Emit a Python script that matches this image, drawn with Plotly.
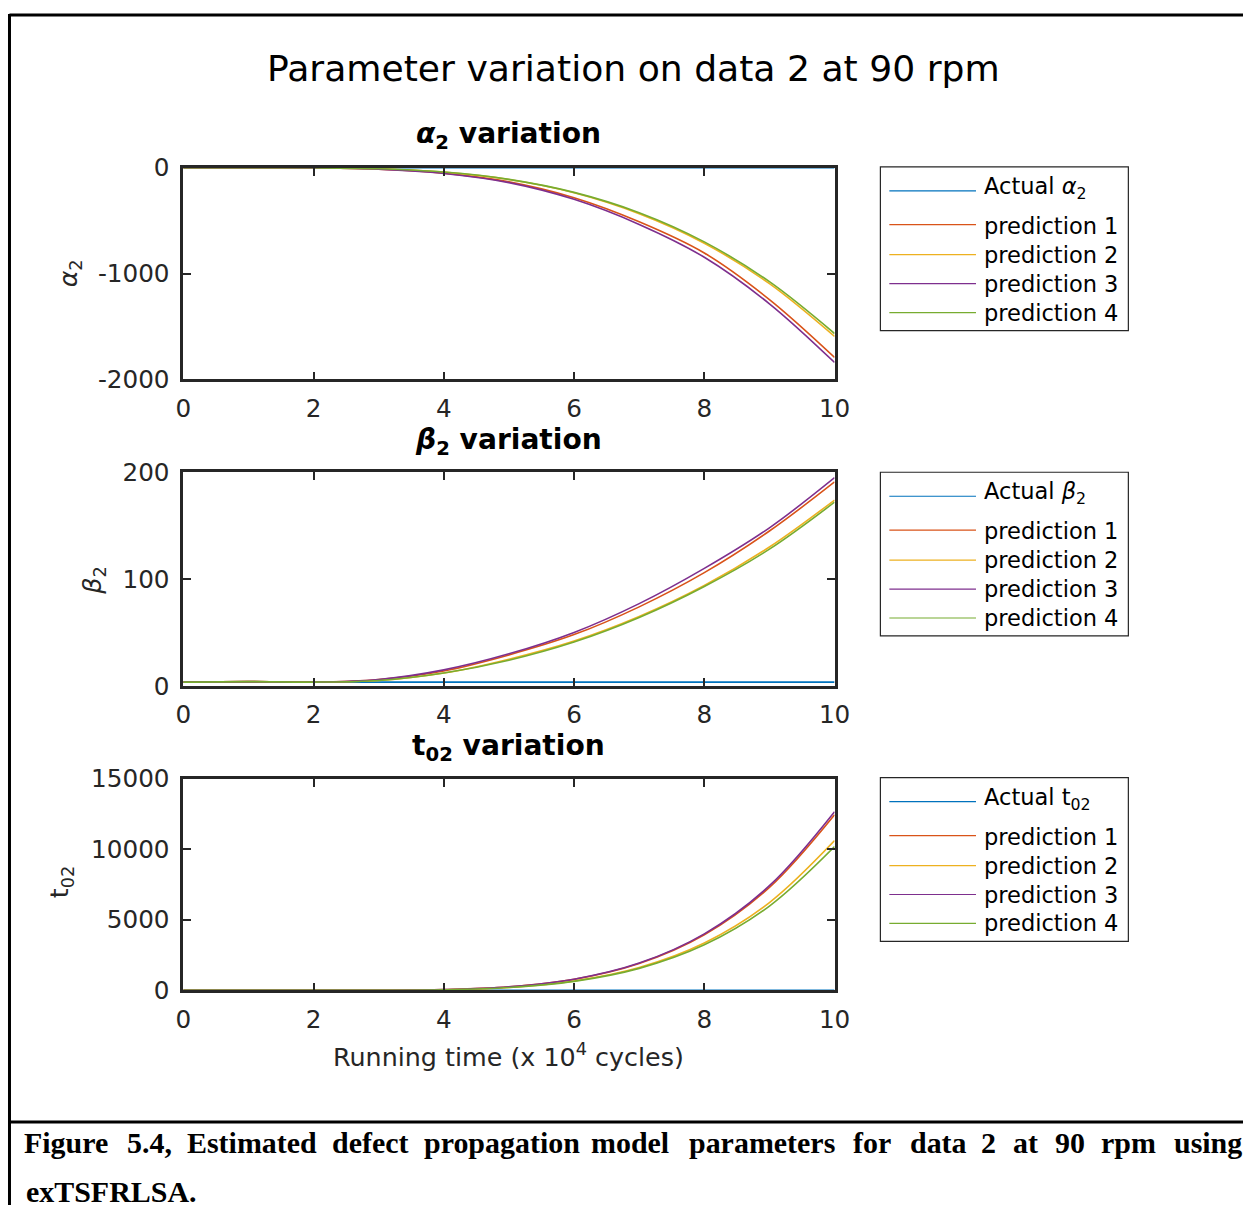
import plotly.graph_objects as go

# ---- data -----------------------------------------------------------------
run_time = [0, 1, 2, 3, 4, 5, 6, 7, 8, 9, 10]  # x 10^4 cycles

alpha_actual = [0, 0, 0, 0, 0, 0, 0, 0, 0, 0, 0]
alpha_pred1 = [0, 0, -1, -12, -50, -133, -283, -510, -805, -1245, -1792]
alpha_pred2 = [0, 0, 0, -9, -41, -111, -236, -434, -713, -1095, -1594]
alpha_pred3 = [0, 0, -1, -13, -53, -140, -298, -535, -845, -1285, -1840]
alpha_pred4 = [0, 0, 0, -9, -40, -109, -232, -424, -700, -1076, -1566]

beta_actual = [3.5, 3.5, 3.5, 3.5, 3.5, 3.5, 3.5, 3.5, 3.5, 3.5, 3.5]
beta_pred1 = [3.5, 4, 3.5, 6, 14, 29, 48, 74, 106, 145, 191]
beta_pred2 = [3.5, 4, 3.5, 5, 12, 25, 42, 65, 94, 130, 174]
beta_pred3 = [3.5, 4, 3.5, 6, 15, 30, 50, 77, 110, 148, 195]
beta_pred4 = [3.5, 4, 3.5, 5, 12, 24, 41, 64, 93, 128, 172]

t02_actual = [0, 0, 0, 0, 0, 0, 0, 0, 0, 0, 0]
t02_pred1 = [0, 0, 0, 3, 49, 246, 778, 1900, 3940, 7300, 12450]
t02_pred2 = [0, 0, 0, 3, 41, 210, 663, 1619, 3357, 6220, 10610]
t02_pred3 = [0, 0, 0, 3, 49, 250, 791, 1931, 4005, 7420, 12665]
t02_pred4 = [0, 0, 0, 2, 40, 202, 637, 1556, 3226, 5976, 10190]

series_names = ["prediction 1", "prediction 2", "prediction 3", "prediction 4"]
actual_labels = ["Actual <i>α</i><sub>2</sub>", "Actual <i>β</i><sub>2</sub>",
                 "Actual t<sub>02</sub>"]
panel_titles = ["<b><i>α</i><sub>2</sub> variation</b>",
                "<b><i>β</i><sub>2</sub> variation</b>",
                "<b>t<sub>02</sub> variation</b>"]
y_titles = ["<i>α</i><sub>2</sub>", "<i>β</i><sub>2</sub>", "t<sub>02</sub>"]

x_ticks = [0, 2, 4, 6, 8, 10]
alpha_ticks = [-2000, -1000, 0]
alpha_ticktext = ["-2000", "-1000", "0"]
beta_ticks = [0, 100, 200]
t02_ticks = [0, 5000, 10000, 15000]

colors = ["#0072BD", "#D95319", "#EDB120", "#7E2F8E", "#77AC30"]

# ---- page geometry ------------------------------------------------------------
# Positions below are given in screen pixels; the figure is shown slightly
# shrunk and offset inside the page, so convert screen pixels to paper units.
W, H = 1259, 1220
SX, SY = 0.985, 0.978   # display scale of the figure
BX, BY = 5.0, 12.9      # display offset of the figure (px)


def fx(p):
    return ((p - BX) / SX) / W


def fy(p):
    return 1 - ((p - BY) / SY) / H


def fs(size):
    return size / SX


AX_L, AX_R = 181, 835
panels = [(167, 379), (472, 686), (779, 991)]  # top, bottom
legend_tops = [166, 472, 778]

FONT = "DejaVu Sans"
DARK = "#262626"

fig = go.Figure()

groups = [
    (alpha_actual, [alpha_pred1, alpha_pred2, alpha_pred3, alpha_pred4]),
    (beta_actual, [beta_pred1, beta_pred2, beta_pred3, beta_pred4]),
    (t02_actual, [t02_pred1, t02_pred2, t02_pred3, t02_pred4]),
]

for i, (actual, preds) in enumerate(groups):
    xa = "x" if i == 0 else f"x{i + 1}"
    ya = "y" if i == 0 else f"y{i + 1}"
    fig.add_trace(go.Scatter(x=run_time, y=actual, mode="lines",
                             line=dict(color=colors[0], width=1.6, shape="spline"),
                             xaxis=xa, yaxis=ya, showlegend=False))
    for k, p in enumerate(preds):
        fig.add_trace(go.Scatter(x=run_time, y=p, mode="lines",
                                 line=dict(color=colors[k + 1], width=1.6, shape="spline"),
                                 xaxis=xa, yaxis=ya, showlegend=False))

axis_common = dict(showline=True, linecolor=DARK, linewidth=2.6, mirror="ticks",
                   ticks="inside", ticklen=8, tickwidth=2, tickcolor=DARK,
                   showgrid=False, zeroline=False,
                   tickfont=dict(family=FONT, size=fs(24.3), color=DARK))

y_ranges = [[-2000, 0], [0, 200], [0, 15000]]
y_tickvals = [alpha_ticks, beta_ticks, t02_ticks]
y_ticktexts = [alpha_ticktext, [str(v) for v in beta_ticks], [str(v) for v in t02_ticks]]

layout_axes = {}
for i, (top, bot) in enumerate(panels):
    xk = "xaxis" if i == 0 else f"xaxis{i + 1}"
    yk = "yaxis" if i == 0 else f"yaxis{i + 1}"
    ya = "y" if i == 0 else f"y{i + 1}"
    xa = "x" if i == 0 else f"x{i + 1}"
    layout_axes[xk] = dict(domain=[fx(AX_L), fx(AX_R)], anchor=ya, range=[0, 10],
                           tickvals=x_ticks, ticklabelstandoff=5, **axis_common)
    layout_axes[yk] = dict(domain=[fy(bot), fy(top)], anchor=xa, range=y_ranges[i],
                           tickvals=y_tickvals[i], ticktext=y_ticktexts[i],
                           ticklabelstandoff=6, **axis_common)

shapes = []
annotations = []

# outer frame and caption divider
shapes.append(dict(type="line", xref="paper", yref="paper", x0=fx(6.5), x1=1,
                   y0=1 - 1.0 / H, y1=1 - 1.0 / H, line=dict(color="black", width=3)))
shapes.append(dict(type="line", xref="paper", yref="paper", x0=fx(6.5), x1=fx(6.5),
                   y0=1, y1=0, line=dict(color="black", width=3)))
shapes.append(dict(type="line", xref="paper", yref="paper", x0=fx(6.5), x1=1,
                   y0=fy(1123), y1=fy(1123), line=dict(color="black", width=3)))

# legends drawn as boxes with line samples
row_offsets = [24, 58, 88, 117, 146]
text_offsets = [21, 59, 88, 117, 146]
for i, top in enumerate(legend_tops):
    shapes.append(dict(type="rect", xref="paper", yref="paper",
                       x0=fx(881), x1=fx(1130), y0=fy(top), y1=fy(top + 164),
                       line=dict(color=DARK, width=1.2), fillcolor="white"))
    labels = [actual_labels[i]] + series_names
    for k in range(5):
        yl = top + row_offsets[k]
        shapes.append(dict(type="line", xref="paper", yref="paper",
                           x0=fx(890), x1=fx(977), y0=fy(yl), y1=fy(yl),
                           line=dict(color=colors[k], width=1.2)))
        annotations.append(dict(xref="paper", yref="paper", x=fx(983),
                                y=fy(top + text_offsets[k]), xanchor="left",
                                yanchor="middle", showarrow=False, text=labels[k],
                                font=dict(family=FONT, size=fs(22.2), color="black")))

# main title
annotations.append(dict(xref="paper", yref="paper", x=fx(633), y=fy(67),
                        xanchor="center", yanchor="middle", showarrow=False,
                        text="Parameter variation on data 2 at 90 rpm",
                        font=dict(family=FONT, size=fs(35.6), color="black")))

# panel titles and y-axis titles
title_y = [135, 441, 748]
ytitle_pos = [(67, 273), (90, 580), (58, 882)]
for i in range(3):
    annotations.append(dict(xref="paper", yref="paper", x=fx(508), y=fy(title_y[i]),
                            xanchor="center", yanchor="middle", showarrow=False,
                            text=panel_titles[i],
                            font=dict(family=FONT, size=fs(27.7), color="black")))
    annotations.append(dict(xref="paper", yref="paper", x=fx(ytitle_pos[i][0]),
                            y=fy(ytitle_pos[i][1]), xanchor="center", yanchor="middle",
                            showarrow=False, textangle=-90, text=y_titles[i],
                            font=dict(family=FONT, size=fs(25), color=DARK)))

# x-axis title
annotations.append(dict(xref="paper", yref="paper", x=fx(508), y=fy(1056),
                        xanchor="center", yanchor="middle", showarrow=False,
                        text="Running time (x 10<sup>4</sup> cycles)",
                        font=dict(family=FONT, size=fs(25), color=DARK)))

# figure caption, laid out justified word by word
caption_line1 = [("Figure", 63), ("5.4,", 147), ("Estimated", 250), ("defect", 369),
                 ("propagation", 501), ("model", 630), ("parameters", 762), ("for", 873),
                 ("data", 939), ("2", 990), ("at", 1027), ("90", 1071), ("rpm", 1130),
                 ("using", 1210)]
for word, cx in caption_line1:
    annotations.append(dict(xref="paper", yref="paper", x=fx(cx), y=fy(1143),
                            xanchor="center", yanchor="middle", showarrow=False,
                            text=f"<b>{word}</b>",
                            font=dict(family="Liberation Serif", size=fs(29.5),
                                      color="black")))
annotations.append(dict(xref="paper", yref="paper", x=fx(21), y=fy(1193),
                        xanchor="left", yanchor="middle", showarrow=False,
                        text="<b>exTSFRLSA.</b>",
                        font=dict(family="Liberation Serif", size=fs(29.5), color="black")))

fig.update_layout(width=W, height=H, margin=dict(l=0, r=0, t=0, b=0),
                  paper_bgcolor="white", plot_bgcolor="white",
                  shapes=shapes, annotations=annotations, showlegend=False,
                  **layout_axes)

fig.write_html("out.html")
